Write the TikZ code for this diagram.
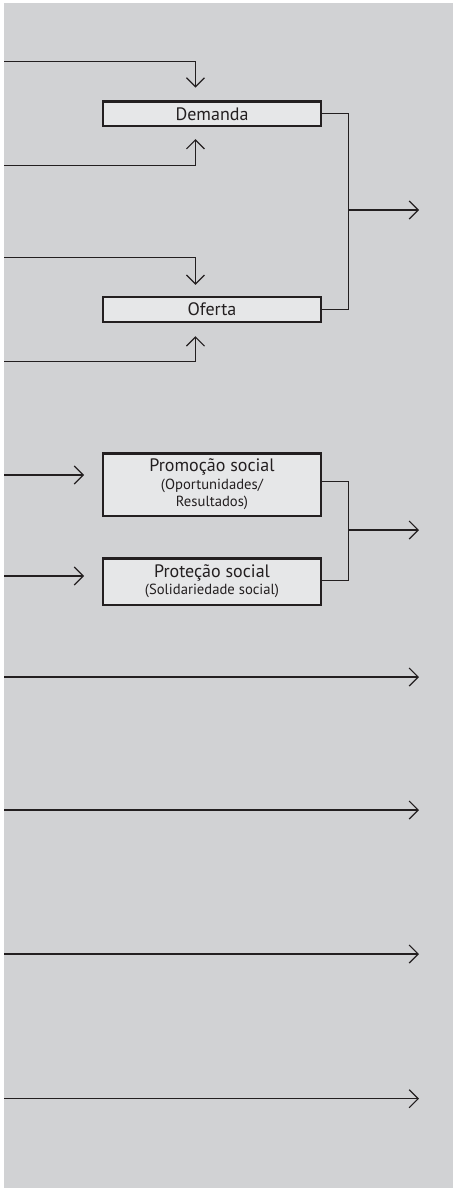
\documentclass[tikz,border=0pt]{standalone}
\usepackage{fontspec}
\setmainfont{PT Sans}
\usetikzlibrary{arrows.meta}

\definecolor{panelgray}{RGB}{209,210,212}
\definecolor{boxgray}{RGB}{230,231,232}
\definecolor{inkgray}{RGB}{35,31,32}

\newcommand{\smalltxt}{\fontsize{11}{13}\selectfont}

\tikzset{
  flowbox/.style={draw=inkgray, line width=1.8pt, fill=boxgray, minimum width=163.5pt,
    inner sep=0pt, align=center, text=inkgray, font=\fontsize{13.5}{13}\selectfont},
  link/.style={draw=inkgray, line width=0.9pt},
  linkarr/.style={link, -{Straight Barb[length=6.75pt,width=13.5pt]}}
}

\begin{document}
\begin{tikzpicture}[x=0.75pt,y=0.75pt,yscale=-1,xscale=1]
  %set diagram area: white margin left and top, grey panel
  \useasboundingbox (0,0) rectangle (453,1188);
  \fill [panelgray] (4,3) rectangle (453,1188);

  % Boxes
  \node [flowbox, minimum height=18.5pt] (dem) at (212,113.8) {Demanda};
  \node [flowbox, minimum height=18.75pt] (ofe) at (212,309.2) {Oferta};
  \node [flowbox, minimum height=46.8pt] (prom) at (212,484.5) {Promoção social\\{\smalltxt (Oportunidades/}\\{\smalltxt Resultados)}};
  \node [flowbox, minimum height=34.8pt] (prot) at (212,581.5) {Proteção social\\{\smalltxt (Solidariedade social)}};

  % free ends
  \coordinate (inD1) at (4,61.5);
  \coordinate (inD2) at (4,165.5);
  \coordinate (inO1) at (4,257.7);
  \coordinate (inO2) at (4,361.7);
  \coordinate (inP) at (4,475);
  \coordinate (inS) at (4,576);
  \coordinate (jD) at (348.5,210);
  \coordinate (outD) at (419,210);
  \coordinate (jP) at (348.5,530);
  \coordinate (outP) at (419,530);

  %Straight Lines into Demanda / Oferta
  \draw [linkarr, shorten >=9.5pt] (inD1) -| ([xshift=-12.4pt]dem.north);
  \draw [linkarr, shorten >=8.8pt] (inD2) -| ([xshift=-12.4pt]dem.south);
  \draw [linkarr, shorten >=8pt] (inO1) -| ([xshift=-12.4pt]ofe.north);
  \draw [linkarr, shorten >=10pt] (inO2) -| ([xshift=-12.4pt]ofe.south);

  %Straight Lines Demanda + Oferta
  \draw [link] (dem.east) -| (jD);
  \draw [link] (ofe.east) -| (jD);
  \draw [linkarr] (jD) -- (outD);

  %Straight Lines into Promocao / Protecao
  \draw [linkarr, shorten >=13.3pt] (inP) -- (inP -| prom.west);
  \draw [linkarr, shorten >=13.3pt] (inS) -- (inS -| prot.west);

  %Straight Lines Promocao + Protecao
  \draw [link] ([yshift=-2.1pt]prom.east) -| (jP);
  \draw [link] ([yshift=-0.6pt]prot.east) -| (jP);
  \draw [linkarr] (jP) -- (outP);

  %Long arrows
  \coordinate (inA) at (4,677);
  \coordinate (outA) at (419,677);
  \coordinate (inB) at (4,810);
  \coordinate (outB) at (419,810);
  \coordinate (inC) at (4,954);
  \coordinate (outC) at (419,954);
  \coordinate (inE) at (4,1098.7);
  \coordinate (outE) at (419,1098.7);
  \draw [linkarr] (inA) -- (outA);
  \draw [linkarr] (inB) -- (outB);
  \draw [linkarr] (inC) -- (outC);
  \draw [linkarr] (inE) -- (outE);
\end{tikzpicture}
\end{document}
